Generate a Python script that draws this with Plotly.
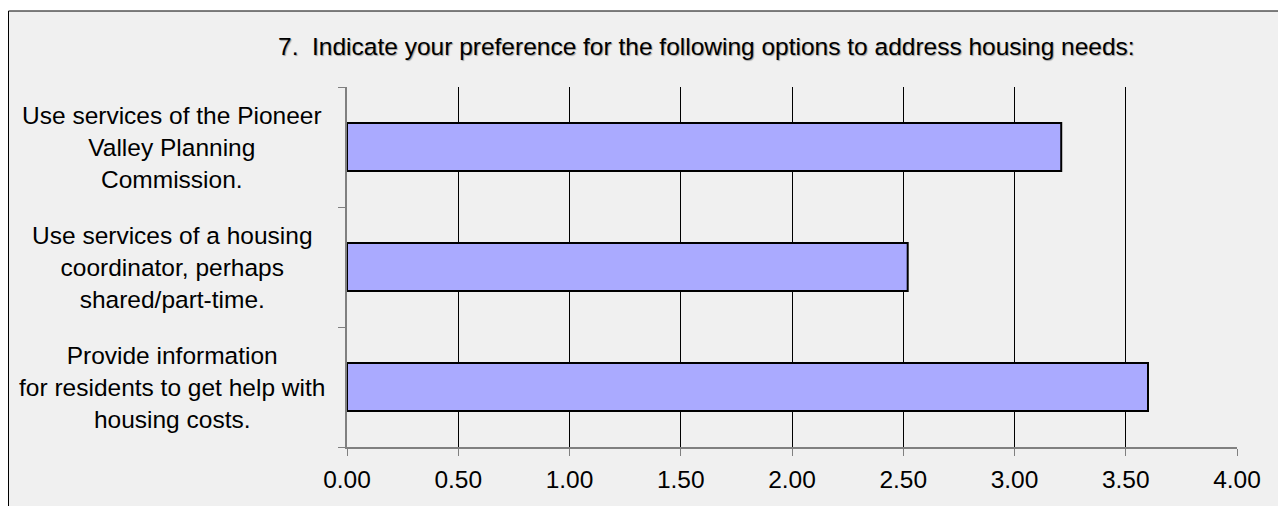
import plotly.graph_objects as go

categories = [
    "Use services of the Pioneer<br>Valley Planning<br>Commission.",
    "Use services of a housing<br>coordinator, perhaps<br>shared/part-time.",
    "Provide information<br>for residents to get help with<br>housing costs.",
]
values = [3.21, 2.52, 3.60]
tick_vals = [0, 0.5, 1, 1.5, 2, 2.5, 3, 3.5, 4]
tick_text = ["0.00", "0.50", "1.00", "1.50", "2.00", "2.50", "3.00", "3.50", "4.00"]
title_text = "7.  Indicate your preference for the following options to address housing needs:"

# page body has an 8px margin, so figure coords = screen coords - 8
OFF = 8
W, H = 1286, 506
L, R, T, B = 347 - OFF, 1286 - (1237 - OFF), 87 - OFF, 506 - (447 - OFF)
pw, ph = W - L - R, H - T - B


def px_x(p):
    return (p - OFF - L) / pw


def px_y(p):
    return (H - B - (p - OFF)) / ph


FONT = "Liberation Sans, Arial, sans-serif"
FS = 24.5

fig = go.Figure(
    go.Bar(
        x=values,
        y=list(range(len(categories))),
        orientation="h",
        marker=dict(color="#aaaaff", line=dict(color="#000000", width=2)),
        width=0.4,
        hoverinfo="x",
    )
)

shapes = [
    dict(type="rect", xref="paper", yref="paper", x0=px_x(8.5), x1=px_x(1400),
         y0=px_y(620), y1=px_y(11), fillcolor="#f0f0f0",
         line=dict(color="#000000", width=1), layer="below"),
]

annotations = []
for i, c in enumerate(categories):
    annotations.append(dict(
        x=px_x(172), xref="paper", y=i, yref="y", text=c, showarrow=False,
        xanchor="center", yanchor="middle", align="center",
        font=dict(family=FONT, size=FS, color="#000000"),
    ))
annotations.append(dict(
    x=px_x(706), xref="paper", y=px_y(47), yref="paper", text=title_text,
    showarrow=False, xanchor="center", yanchor="middle",
    font=dict(family=FONT, size=FS, color="#000000", shadow="1px 1px 1px #a0a0a0"),
))

fig.update_layout(
    width=W, height=H,
    margin=dict(l=L, r=R, t=T, b=B, pad=0),
    paper_bgcolor="#ffffff",
    plot_bgcolor="rgba(0,0,0,0)",
    showlegend=False,
    shapes=shapes,
    annotations=annotations,
    xaxis=dict(
        range=[0, 4], tickvals=tick_vals, ticktext=tick_text,
        showgrid=True, gridcolor="#000000", gridwidth=1,
        showline=True, linecolor="#808080", linewidth=2,
        ticks="outside", ticklen=7, tickcolor="#808080",
        ticklabelstandoff=3,
        tickfont=dict(family=FONT, size=FS, color="#000000"),
        zeroline=False, fixedrange=True,
    ),
    yaxis=dict(
        range=[2.5, -0.5], tickvals=[-0.5, 0.5, 1.5, 2.5], ticktext=["", "", "", ""],
        showgrid=False, showline=True, linecolor="#808080", linewidth=2,
        ticks="outside", ticklen=7, tickcolor="#808080",
        zeroline=False, fixedrange=True,
    ),
)

fig.write_html("out.html")
